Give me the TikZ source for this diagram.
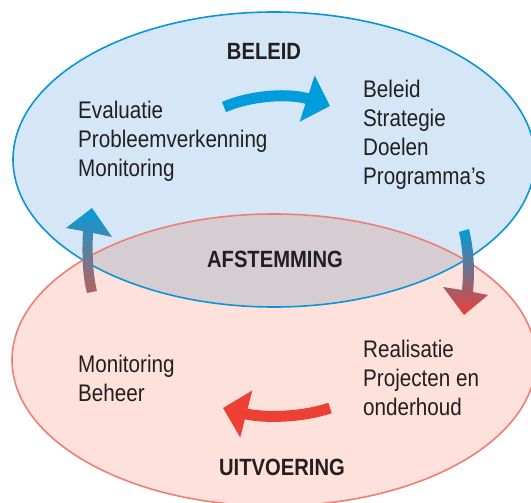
\documentclass[tikz,border=0pt]{standalone}
\usepackage{fontspec}
\setmainfont[FakeStretch=0.86]{Liberation Sans}
\usetikzlibrary{arrows.meta}

\definecolor{beleidfill}{HTML}{D5E6F6}
\definecolor{beleidlijn}{HTML}{0A96D6}
\definecolor{uitvfill}{HTML}{FDE1DA}
\definecolor{uitvlijn}{HTML}{EE7F74}
\definecolor{afstfill}{HTML}{D6CDD2}
\definecolor{pijlblauw}{HTML}{009CDB}
\definecolor{pijlrood}{HTML}{EC4034}
\definecolor{pijlbruin}{HTML}{B8625E}
\definecolor{tekst}{HTML}{231F20}

\tikzset{
	veld/.style={line width=1.6pt},
	lijst/.style={anchor=north west, align=left, inner sep=0pt, text=tekst, font=\fontsize{24}{29}\selectfont},
	titel/.style={anchor=base, inner sep=0pt, text=tekst, font=\fontsize{23.5}{29}\selectfont\bfseries},
	pijl/.style={line width=11pt, -{Triangle[length=24pt,width=47pt]}}
}

\begin{document}
\begin{tikzpicture}[x=1pt,y=-1pt]
	\clip (0,0) rectangle (531,503);
	\coordinate (mb) at (274,159.5);
	\coordinate (mu) at (274,360);

	\fill[beleidfill]	(mb) ellipse [x radius=261pt, y radius=147.5pt];
	\fill[uitvfill]		(mu) ellipse [x radius=262pt, y radius=146pt];
	\begin{scope}
		\clip			(mb) ellipse [x radius=261pt, y radius=147.5pt];
		\fill[afstfill]	(mu) ellipse [x radius=262pt, y radius=146pt];
	\end{scope}
	\draw[veld,beleidlijn]	(mb) ellipse [x radius=261pt, y radius=147.5pt];
	\draw[veld,uitvlijn]	(mu) ellipse [x radius=262pt, y radius=146pt];

	\node[titel]	(beleid)		at (264,60)		{BELEID};
	\node[titel]	(afstemming)	at (275,267)	{AFSTEMMING};
	\node[titel]	(uitvoering)	at (282,475)	{UITVOERING};
	\node[lijst]	(evaluatie)		at (78,100.8)	{Evaluatie\\Probleemverkenning\\Monitoring};
	\node[lijst]	(doelen)		at (363,79.8)	{Beleid\\Strategie\\Doelen\\Programma’s};
	\node[lijst]	(beheer)		at (78,354.8)	{Monitoring\\Beheer};
	\node[lijst]	(realisatie)	at (363,339.8)	{Realisatie\\Projecten en\\onderhoud};

	\coordinate (bstart)	at (224,107);
	\coordinate (beind)		at (330,106);
	\coordinate (ustart)	at (330,408);
	\coordinate (ueind)		at (223,408);
	\draw[pijl,pijlblauw]	(bstart) .. controls (252,95) and (290,93) .. (beind);
	\draw[pijl,pijlrood]	(ustart) .. controls (300,418) and (262,418) .. (ueind);

	\coordinate (lpunt)	at (92,208);
	\coordinate (rpunt)	at (464,315);
	\shade[top color=pijlblauw, bottom color=pijlbruin]
		(87,293) .. controls (82,275) and (82,250) .. (83,231) -- (66,228) -- (lpunt)
		-- (112,237) -- (93,233) .. controls (92,255) and (93,275) .. (97,291) -- cycle;
	\shade[top color=pijlblauw, bottom color=pijlrood]
		(459,232) -- (469,229) .. controls (474,250) and (475,270) .. (473,292) -- (488,295)
		-- (rpunt) -- (443,287) -- (462,290) .. controls (464,268) and (463,250) .. (459,232) -- cycle;
\end{tikzpicture}
\end{document}
